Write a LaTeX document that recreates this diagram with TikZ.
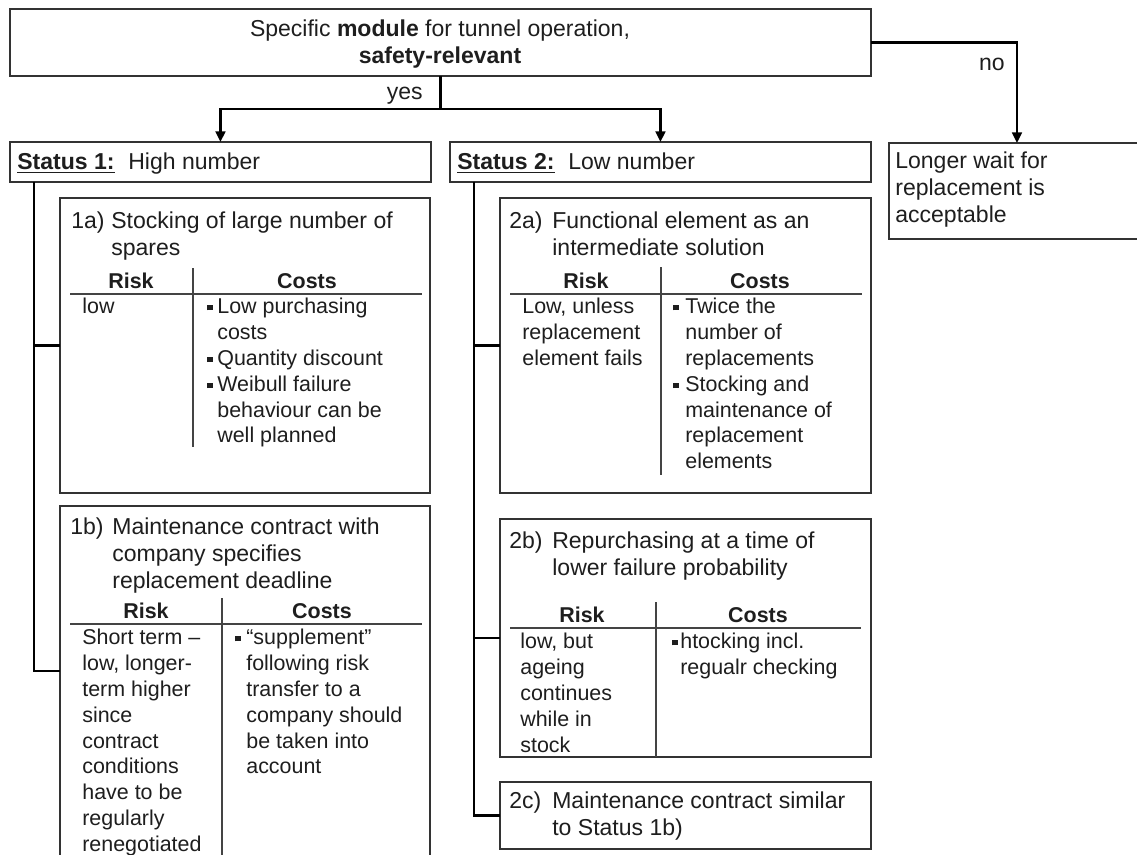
\documentclass[tikz,border=0pt]{standalone}
\usepackage{fontspec}
\setmainfont{Liberation Sans}
\usetikzlibrary{arrows.meta}
\definecolor{txt}{HTML}{1E1E1E}
\definecolor{boxc}{HTML}{333333}
\definecolor{linec}{HTML}{444444}
\newcommand\fs{\fontsize{12.2}{14.75}\selectfont}
\newcommand\fl{\fontsize{13.1}{15.3}\selectfont}
\newcommand\bsq[1]{\makebox[#1][l]{\rule[0.14em]{0.25em}{0.25em}}}
\newcommand\ind[1]{\makebox[#1]{}}
\begin{document}
\begin{tikzpicture}[x=0.02cm,y=-0.02cm,
 box/.style={draw=boxc, line width=0.85pt, inner sep=0, outer sep=0, anchor=north west},
 conn/.style={line width=1.4pt, black},
 arr/.style={-{Triangle[length=6pt,width=5.5pt]}},
 tline/.style={draw=linec, line width=0.6pt},
 tb/.style={anchor=north west, inner sep=0, align=left, font=\fs, text=txt, yshift=10.325pt},
 tl/.style={anchor=north west, inner sep=0, align=left, font=\fl, text=txt, yshift=10.71pt},
 hd/.style={anchor=base, inner sep=0, font=\fs\bfseries, text=txt},
 st/.style={anchor=base west, inner sep=0, font=\fl, text=txt},
 lab/.style={anchor=base east, inner sep=0, font=\fl, text=txt}]
\fill[white] (0,0) rectangle (1137,855);
\useasboundingbox (0,0) rectangle (1137,855);

% boxes
\node[box, minimum width=17.22cm, minimum height=1.34cm] (main) at (10,9) {};
\node[box, minimum width=8.42cm, minimum height=0.8cm] (s1) at (10,142) {};
\node[box, minimum width=8.42cm, minimum height=0.8cm] (s2) at (450,142) {};
\node[box, minimum width=5.12cm, minimum height=1.92cm] (wait) at (889,143) {};
\node[box, minimum width=7.4cm, minimum height=5.9cm] (b1a) at (60,198) {};
\node[box, minimum width=7.4cm, minimum height=7.4cm] (b1b) at (60,506) {};
\node[box, minimum width=7.42cm, minimum height=5.9cm] (b2a) at (500,198) {};
\node[box, minimum width=7.42cm, minimum height=4.76cm] (b2b) at (500,519) {};
\node[box, minimum width=7.42cm, minimum height=1.34cm] (b2c) at (500,782) {};

% connectors
\coordinate (yj) at (440,109);
\draw[conn] (main.south) -- (main.south |- yj);
\draw[conn,arr] (main.south |- yj) -| (s1.north);
\draw[conn,arr] (main.south |- yj) -| (s2.north);
\draw[conn,arr] (main.east) -| (wait.north);
\coordinate (t1) at (34,182);
\coordinate (j1b) at (60,671);
\draw[conn] (t1) |- (b1a.west);
\draw[conn] (t1) |- (j1b);
\coordinate (t2) at (474,182);
\draw[conn] (t2) |- (b2a.west);
\draw[conn] (t2) |- (b2b.west);
\draw[conn] (t2) |- (b2c.west);

% labels
\node[lab] (yes) at (423,100) {yes};
\node[lab] (no) at (1005,71) {no};

% title
\node[anchor=north, inner sep=0, align=center, font=\fl, text=txt, yshift=10.71pt] (title) at (440,36)
 {\strut Specific \textbf{module} for tunnel operation,\\\textbf{safety-relevant}};

% status
\node[st] (s1a) at (17,170) {\textbf{\underline{Status 1:}}};
\node[st] (s1b) at (128,170) {High number};
\node[st] (s2a) at (457,170) {\textbf{\underline{Status 2:}}};
\node[st] (s2b) at (568,170) {Low number};
\node[tl] (waitt) at (895,168) {\strut Longer wait for\\replacement is\\acceptable};

% 1a
\node[tl] (t1at) at (71,228) {\strut\makebox[0.8cm][l]{1a)}Stocking of large number of\\\ind{0.8cm}spares};
\draw[tline] (70,294) -- (422,294);
\draw[tline] (193,268) -- (193,447);
\node[hd] (h1ar) at (131,288) {Risk};
\node[hd] (h1ac) at (307,288) {Costs};
\node[tb] (r1a) at (82,313) {\strut low};
\node[tb] (c1a) at (207,313) {\strut\bsq{0.2cm}Low purchasing\\\ind{0.2cm}costs\\\bsq{0.2cm}Quantity discount\\\bsq{0.2cm}Weibull failure\\\ind{0.2cm}behaviour can be\\\ind{0.2cm}well planned};

% 1b
\node[tl] (t1bt) at (70,534) {\strut\makebox[0.84cm][l]{1b)}Maintenance contract with\\\ind{0.84cm}company specifies\\\ind{0.84cm}replacement deadline};
\draw[tline] (70,624) -- (422,624);
\draw[tline] (222,598) -- (222,870);
\node[hd] (h1br) at (146,618) {Risk};
\node[hd] (h1bc) at (322,618) {Costs};
\node[tb] (r1b) at (82,644) {\strut Short term –\\low, longer-\\term higher\\since\\contract\\conditions\\have to be\\regularly\\renegotiated};
\node[tb] (c1b) at (235,644) {\strut\bsq{0.22cm}“supplement”\\\ind{0.22cm}following risk\\\ind{0.22cm}transfer to a\\\ind{0.22cm}company should\\\ind{0.22cm}be taken into\\\ind{0.22cm}account};

% 2a
\node[tl] (t2at) at (509,228) {\strut\makebox[0.86cm][l]{2a)}Functional element as an\\\ind{0.86cm}intermediate solution};
\draw[tline] (510,294) -- (862,294);
\draw[tline] (661,267) -- (661,475);
\node[hd] (h2ar) at (586,288) {Risk};
\node[hd] (h2ac) at (760,288) {Costs};
\node[tb] (r2a) at (522,313) {\strut Low, unless\\replacement\\element fails};
\node[tb] (c2a) at (673,313) {\strut\bsq{0.24cm}Twice the\\\ind{0.24cm}number of\\\ind{0.24cm}replacements\\\bsq{0.24cm}Stocking and\\\ind{0.24cm}maintenance of\\\ind{0.24cm}replacement\\\ind{0.24cm}elements};

% 2b
\node[tl] (t2bt) at (509,548) {\strut\makebox[0.86cm][l]{2b)}Repurchasing at a time of\\\ind{0.86cm}lower failure probability};
\draw[tline] (510,628) -- (861,628);
\draw[tline] (656,602) -- (656,757);
\node[hd] (h2br) at (582,622) {Risk};
\node[hd] (h2bc) at (758,622) {Costs};
\node[tb] (r2b) at (520,648) {\strut low, but\\ageing\\continues\\while in\\stock};
\node[tb] (c2b) at (672,648) {\strut\bsq{0.16cm}htocking incl.\\\ind{0.16cm}regualr checking};

% 2c
\node[tl] (t2ct) at (509,808) {\strut\makebox[0.86cm][l]{2c)}Maintenance contract similar\\\ind{0.86cm}to Status 1b)};
\end{tikzpicture}
\end{document}
